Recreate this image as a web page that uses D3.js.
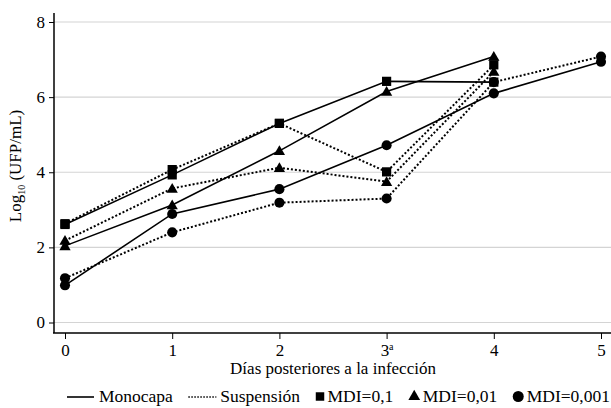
<!DOCTYPE html>
<html><head><meta charset="utf-8">
<script src="https://cdn.jsdelivr.net/npm/d3@7"></script>
<style>
body{margin:0;background:#fff;}
</style></head>
<body><svg id="chart" width="611" height="408"></svg>
<script>
const days = [0, 1, 2, 3, 4, 5];
const dayLabels = ["0", "1", "2", "3", "4", "5"];
const yTicks = [0, 2, 4, 6, 8];

// Monocapa (solid)
const monoMDI01   = [2.61, 3.93, 5.30, 6.42, 6.40];
const monoMDI001  = [2.04, 3.13, 4.57, 6.15, 7.08];
const monoMDI0001 = [0.99, 2.89, 3.55, 4.72, 6.10, 6.94];
// Suspensión (dotted)
const suspMDI01   = [2.63, 4.07, 5.30, 4.01, 6.86];
const suspMDI001  = [2.18, 3.57, 4.12, 3.75, 6.68];
const suspMDI0001 = [1.18, 2.40, 3.19, 3.30, 6.40, 7.08];

const series = [
  {values: monoMDI01, dotted: false, marker: "square"},
  {values: monoMDI001, dotted: false, marker: "triangle"},
  {values: monoMDI0001, dotted: false, marker: "circle"},
  {values: suspMDI01, dotted: true, marker: "square"},
  {values: suspMDI001, dotted: true, marker: "triangle"},
  {values: suspMDI0001, dotted: true, marker: "circle"}
];

const FONT = "Liberation Serif";
const FS = 17;
const svg = d3.select("#chart").attr("font-family", FONT);
const x = d3.scaleLinear().domain([0, 5]).range([65, 601]);
const y = d3.scaleLinear().domain([0, 8]).range([322.5, 22]);
const axisX = 54, axisY = 333;

// gridlines
svg.append("g").selectAll("line").data(yTicks).join("line")
  .attr("x1", axisX).attr("x2", 611)
  .attr("y1", d => y(d)).attr("y2", d => y(d))
  .attr("stroke", "#d4d4d4").attr("stroke-width", 1.2);

// Y axis
const gy = svg.append("g").attr("transform", `translate(${axisX},0)`)
  .call(d3.axisLeft(y).tickValues(yTicks).tickSize(5).tickPadding(4).tickFormat(d3.format("d")));
gy.attr("font-family", FONT);
gy.select(".domain").remove();
gy.append("line").attr("x1", 0).attr("x2", 0).attr("y1", 13).attr("y2", axisY).attr("stroke", "#000").attr("stroke-width", 1.5);
gy.selectAll(".tick line").attr("stroke", "#000").attr("stroke-width", 1);
gy.selectAll(".tick text").attr("font-size", FS).attr("fill", "#000");

// X axis
const gx = svg.append("g").attr("transform", `translate(0,${axisY})`)
  .call(d3.axisBottom(x).tickValues(days).tickSize(6).tickPadding(5).tickFormat((d, i) => dayLabels[i]));
gx.attr("font-family", FONT);
gx.select(".domain").remove();
gx.append("line").attr("x1", axisX - 1).attr("x2", 611).attr("y1", 0).attr("y2", 0).attr("stroke", "#000").attr("stroke-width", 1.5);
gx.selectAll(".tick line").attr("stroke", "#000").attr("stroke-width", 1);
gx.selectAll(".tick text").attr("font-size", FS).attr("fill", "#000");
gx.selectAll(".tick text").filter((d) => d === 3)
  .append("tspan").attr("font-size", 10).attr("dy", "-0.6em").text("a");

// Axis titles
svg.append("text").attr("x", 333).attr("y", 374).attr("text-anchor", "middle")
  .attr("font-size", FS).text("Días posteriores a la infección");
const yl = svg.append("text").attr("transform", "translate(21,166) rotate(-90)")
  .attr("text-anchor", "middle").attr("font-size", FS);
yl.append("tspan").text("Log");
yl.append("tspan").attr("font-size", 10).attr("dy", 4).text("10");
yl.append("tspan").attr("dy", -4).text(" (UFP/mL)");

// lines
const line = d3.line().x((d, i) => x(days[i])).y(d => y(d));
svg.append("g").selectAll("path").data(series).join("path")
  .attr("d", d => line(d.values))
  .attr("fill", "none").attr("stroke", "#000")
  .attr("stroke-width", d => d.dotted ? 2 : 1.6)
  .attr("stroke-dasharray", d => d.dotted ? "2,2" : null);

// markers
const sym = {
  square: d3.symbol().type(d3.symbolSquare).size(85),
  triangle: d3.symbol().type(d3.symbolTriangle).size(55),
  circle: d3.symbol().type(d3.symbolCircle).size(80)
};
["square", "triangle", "circle"].forEach(m => {
  series.filter(s => s.marker === m).forEach(s => {
    svg.append("g").selectAll("path").data(s.values).join("path")
      .attr("d", sym[m]())
      .attr("transform", (d, i) => `translate(${x(days[i])},${y(d) + (m === "triangle" ? 1 : 0)})`)
      .attr("fill", "#000");
  });
});

// legend
const legendItems = [
  {label: "Monocapa", kind: "solid"},
  {label: "Suspensión", kind: "dotted"},
  {label: "MDI=0,1", kind: "square"},
  {label: "MDI=0,01", kind: "triangle"},
  {label: "MDI=0,001", kind: "circle"}
];
const lg = svg.append("g");
const ly = 402, lfs = 17.5;
const symW = {solid: 27, dotted: 28, square: 9, triangle: 11, circle: 11};
const textGap = {solid: 5, dotted: 4, square: 3, triangle: 3, circle: 3};
const widths = legendItems.map(it => {
  const t = lg.append("text").attr("font-size", lfs).text(it.label);
  const w = t.node().getComputedTextLength(); t.remove(); return w;
});
const startX = 67, endX = 610;
const fixed = d3.sum(legendItems, it => symW[it.kind] + textGap[it.kind]) + d3.sum(widths);
const gap = (endX - startX - fixed) / (legendItems.length - 1);
let cx = startX;
legendItems.forEach((it, i) => {
  const w = symW[it.kind];
  if (it.kind === "solid" || it.kind === "dotted") {
    lg.append("line").attr("x1", cx).attr("x2", cx + w).attr("y1", ly - 5).attr("y2", ly - 5)
      .attr("stroke", "#000").attr("stroke-width", it.kind === "dotted" ? 1.5 : 1.6)
      .attr("stroke-dasharray", it.kind === "dotted" ? "1.5,1.5" : null);
  } else {
    const s = it.kind === "square" ? d3.symbol().type(d3.symbolSquare).size(72)
      : it.kind === "triangle" ? d3.symbol().type(d3.symbolTriangle).size(60)
      : d3.symbol().type(d3.symbolCircle).size(95);
    lg.append("path").attr("d", s()).attr("transform", `translate(${cx + w / 2},${ly - 5.5})`).attr("fill", "#000");
  }
  cx += w + textGap[it.kind];
  lg.append("text").attr("x", cx).attr("y", ly).attr("font-size", lfs).text(it.label);
  cx += widths[i] + gap;
});
</script></body></html>
